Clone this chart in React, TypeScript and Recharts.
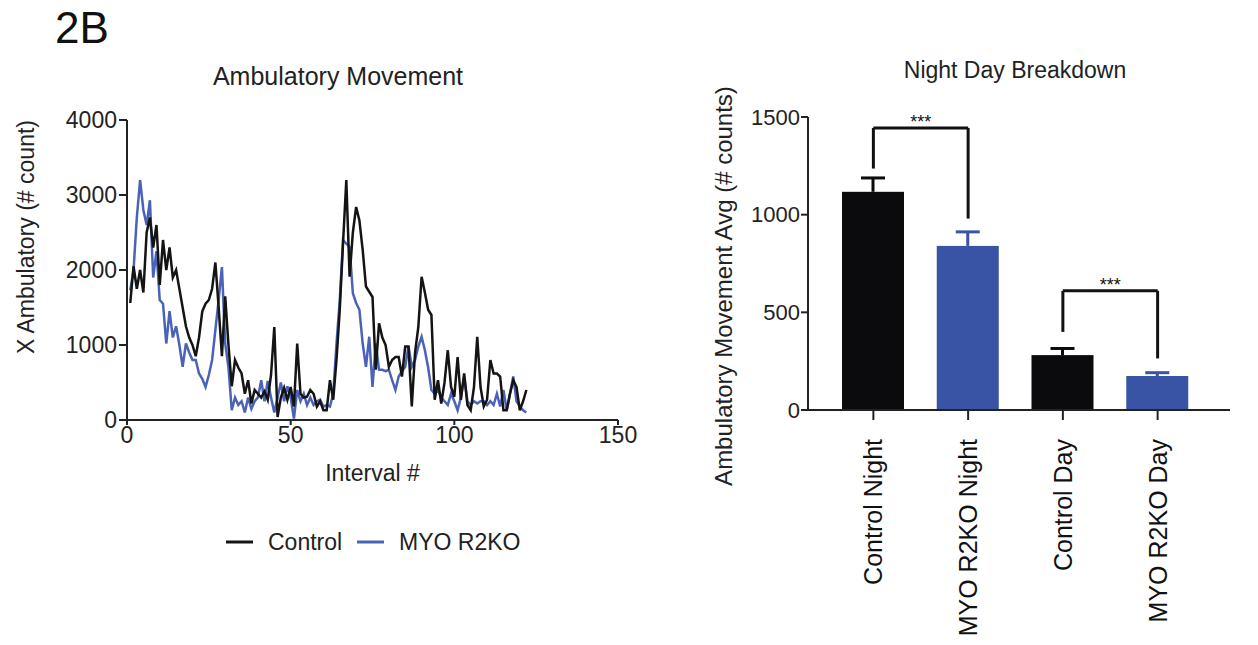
import { LineChart, Line, XAxis, YAxis, BarChart, Bar, ReferenceLine } from 'recharts';

const FONT = '"Liberation Sans", Arial, Helvetica, sans-serif';

// Ambulatory movement per interval
const controlCounts = [
  1560, 2050, 1750, 2000, 1700, 2500, 2700, 2300, 2600, 1800,
  2400, 2000, 2300, 1900, 2000, 1750, 1500, 1250, 1100, 1000,
  850, 1100, 1450, 1550, 1600, 1750, 2100, 1500, 850, 1650,
  1000, 450, 800, 700, 620, 350, 530, 220, 400, 350,
  300, 380, 270, 600, 1240, 40, 300, 430, 270, 440,
  180, 1020, 350, 300, 310, 400, 350, 180, 250, 130,
  130, 530, 270, 800, 1470, 2360, 3200, 1910, 2500, 2840,
  2660, 2270, 1780, 1710, 1640, 670, 1290, 1100, 1000, 710,
  800, 840, 840, 580, 980, 980, 180, 900, 1240, 1910,
  1700, 1470, 1400, 270, 530, 220, 500, 930, 440, 310,
  840, 270, 620, 200, 130, 440, 1110, 440, 180, 270,
  800, 620, 620, 580, 130, 130, 350, 530, 440, 130,
  250, 400,
];
const myoCounts = [
  1730, 2000, 2700, 3200, 2800, 2600, 2930, 1900, 2250, 1600,
  1550, 1020, 1450, 1100, 1250, 1000, 710, 1020, 900, 800,
  800, 620, 550, 440, 600, 800, 1200, 1600, 2040, 1020,
  700, 130, 300, 200, 250, 100, 300, 150, 250, 300,
  530, 250, 520, 300, 100, 300, 500, 250, 450, 300,
  20, 400, 250, 350, 200, 300, 200, 250, 270, 180,
  200, 180, 350, 1020, 1600, 2400, 2350, 2310, 1690, 1560,
  1470, 1020, 710, 1110, 440, 1020, 670, 670, 650, 670,
  530, 400, 580, 650, 710, 980, 710, 800, 980, 1110,
  930, 700, 400, 350, 400, 300, 250, 200, 350, 250,
  130, 300, 580, 250, 200, 250, 220, 250, 250, 200,
  250, 200, 350, 180, 400, 130, 350, 580, 250, 180,
  130, 100,
];
const intervalTicks = [0, 50, 100, 150];
const countTicks = [0, 1000, 2000, 3000, 4000];

// night / day breakdown
const groups = ['Control Night', 'MYO R2KO Night', 'Control Day', 'MYO R2KO Day'];
const groupMeans = [1117, 840, 281, 174];
const groupSem = [71, 72, 34, 17];
const groupColors = ['#0b0b0d', '#3a54a5', '#0b0b0d', '#3a54a5'];
const avgTicks = [0, 500, 1000, 1500];

const brackets = [
  { from: 'Control Night', to: 'MYO R2KO Night', top: 1444, fromEnd: 1236, toEnd: 980 },
  { from: 'Control Day', to: 'MYO R2KO Day', top: 610, fromEnd: 400, toEnd: 264 },
];

const series = [
  { key: 'myo', name: 'MYO R2KO', color: '#4a63b9' },
  { key: 'control', name: 'Control', color: '#141414' },
];

const lineData = controlCounts.map((c, i) => ({ interval: i + 1, control: c, myo: myoCounts[i] }));
const barData = groups.map((g, i) => ({ group: g, mean: groupMeans[i], sem: groupSem[i], color: groupColors[i] }));

const axisStyle = { stroke: '#222', strokeWidth: 2 };

// bar + upper error whisker, whisker length taken from the bar's own pixel scale
const BarWithError = (props: any) => {
  const { x, y, width, height, payload } = props;
  if (!height) return null;
  const perUnit = height / payload.mean;
  const top = y - payload.sem * perUnit;
  const cx = x + width / 2;
  return (
    <g>
      <rect x={x} y={y} width={width} height={height} fill={payload.color} />
      <line x1={cx} x2={cx} y1={y} y2={top} stroke={payload.color} strokeWidth={3} />
      <line x1={cx - 12} x2={cx + 12} y1={top} y2={top} stroke={payload.color} strokeWidth={3} />
    </g>
  );
};

const RotatedTick = ({ x, y, payload }: any) => (
  <text
    transform={`translate(${x},${y + 17}) rotate(-90)`}
    textAnchor="end"
    dominantBaseline="central"
    fontSize={25}
    fill="#111"
    fontFamily={FONT}
  >
    {payload.value}
  </text>
);

const leftYLabel = () => (
  <text transform="translate(26,237) rotate(-90)" textAnchor="middle" dominantBaseline="central"
    fontSize={23} fill="#222" fontFamily={FONT}>
    X Ambulatory (# count)
  </text>
);

const rightYLabel = () => (
  <text transform="translate(83,286) rotate(-90)" textAnchor="middle" dominantBaseline="central"
    fontSize={24} fill="#222" fontFamily={FONT}>
    Ambulatory Movement Avg (# counts)
  </text>
);

const legendItems = [
  { ...series[1], lx: 226, tx: 268 },
  { ...series[0], lx: 357, tx: 399 },
];

export default function App() {
  return (
    <div style={{ position: 'absolute', left: 0, top: 0, width: 1258, height: 645, background: '#fff', fontFamily: FONT }}>
      <div style={{ position: 'absolute', left: 0, top: 0 }}>
        <LineChart width={640} height={500} data={lineData} margin={{ top: 120, right: 22, left: 0, bottom: 0 }}>
          <XAxis
            type="number"
            dataKey="interval"
            domain={[0, 150]}
            ticks={intervalTicks}
            height={80}
            tickSize={5}
            tickMargin={2}
            axisLine={axisStyle}
            tickLine={axisStyle}
            tick={{ fontSize: 23, fill: '#222', fontFamily: FONT }}
            label={{ value: 'Interval #', position: 'insideBottom', offset: 19, fontSize: 23, fill: '#222', fontFamily: FONT }}
          />
          <YAxis
            type="number"
            domain={[0, 4000]}
            ticks={countTicks}
            width={127}
            tickSize={8}
            tickMargin={2}
            axisLine={axisStyle}
            tickLine={axisStyle}
            tick={{ fontSize: 23, fill: '#222', fontFamily: FONT }}
            label={leftYLabel}
          />
          {series.map((s) => (
            <Line
              key={s.key}
              dataKey={s.key}
              name={s.name}
              type="linear"
              stroke={s.color}
              strokeWidth={2.5}
              dot={false}
              isAnimationActive={false}
            />
          ))}
        </LineChart>
      </div>

      <div style={{ position: 'absolute', left: 640, top: 0 }}>
        <BarChart width={618} height={645} data={barData} margin={{ top: 117, right: 28, left: 0, bottom: 0 }}>
          <XAxis
            dataKey="group"
            type="category"
            height={235}
            padding={{ left: 18, right: 25 }}
            tickSize={10}
            tickMargin={2}
            axisLine={axisStyle}
            tickLine={axisStyle}
            tick={<RotatedTick />}
            interval={0}
          />
          <YAxis
            type="number"
            domain={[0, 1500]}
            ticks={avgTicks}
            width={168}
            tickSize={7}
            tickMargin={1}
            axisLine={axisStyle}
            tickLine={axisStyle}
            tick={{ fontSize: 22, fill: '#222', fontFamily: FONT }}
            label={rightYLabel}
          />
          <Bar dataKey="mean" barSize={62} shape={<BarWithError />} isAnimationActive={false} />
          {brackets.map((b, i) => (
            <ReferenceLine
              key={`top${i}`}
              segment={[{ x: b.from, y: b.top }, { x: b.to, y: b.top }]}
              stroke="#111"
              strokeWidth={3}
              ifOverflow="visible"
              label={{ value: '***', position: 'top', offset: 0, fontSize: 18, fill: '#111', fontFamily: FONT }}
            />
          ))}
          {brackets.map((b, i) => (
            <ReferenceLine
              key={`l${i}`}
              segment={[{ x: b.from, y: b.fromEnd }, { x: b.from, y: b.top }]}
              stroke="#111"
              strokeWidth={3}
              ifOverflow="visible"
            />
          ))}
          {brackets.map((b, i) => (
            <ReferenceLine
              key={`r${i}`}
              segment={[{ x: b.to, y: b.toEnd }, { x: b.to, y: b.top }]}
              stroke="#111"
              strokeWidth={3}
              ifOverflow="visible"
            />
          ))}
        </BarChart>
      </div>

      <svg width={1258} height={645} style={{ position: 'absolute', left: 0, top: 0, pointerEvents: 'none' }}>
        <text x={55} y={43} fontSize={44} fill="#111" fontFamily={FONT}>2B</text>
        <text x={338} y={85} fontSize={25} fill="#222" textAnchor="middle" fontFamily={FONT}>Ambulatory Movement</text>
        <text x={1015} y={78} fontSize={23} fill="#222" textAnchor="middle" fontFamily={FONT}>Night Day Breakdown</text>
        {legendItems.map((it) => (
          <g key={it.key}>
            <line x1={it.lx} x2={it.lx + 27} y1={542} y2={542} stroke={it.color} strokeWidth={3} />
            <text x={it.tx} y={550} fontSize={23} fill="#222" fontFamily={FONT}>{it.name}</text>
          </g>
        ))}
      </svg>
    </div>
  );
}
